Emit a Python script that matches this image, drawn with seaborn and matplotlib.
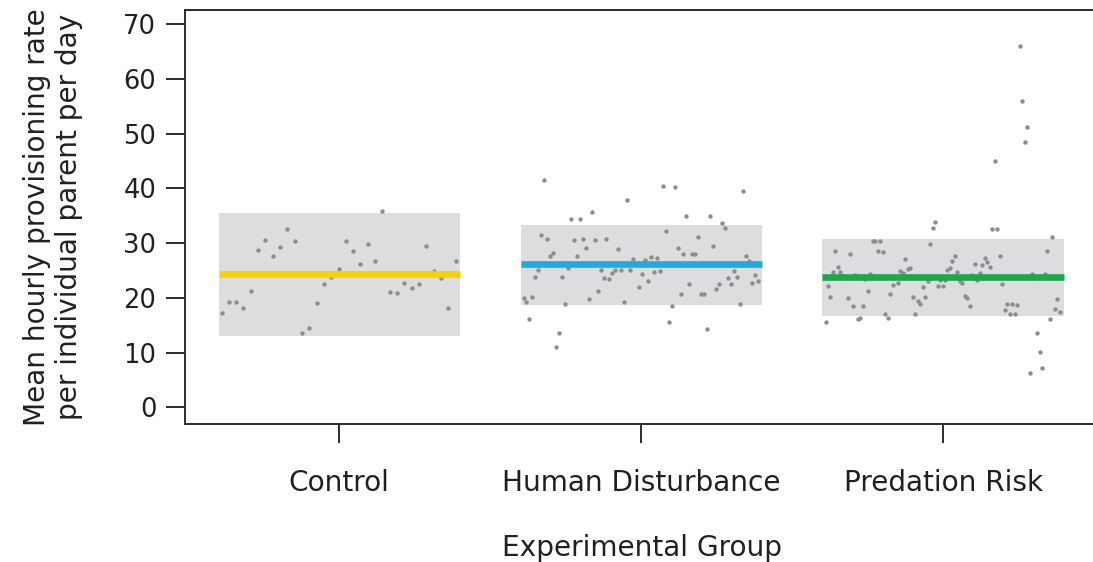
import numpy as np
import pandas as pd
import matplotlib
matplotlib.use("Agg")
import matplotlib.pyplot as plt
import seaborn as sns

# ---------------- data ----------------
groups = ["Control", "Human Disturbance", "Predation Risk"]
group_colors = ["#f6d200", "#22a9e1", "#1fa54b"]
group_means = [24.3, 26.1, 23.8]
band_lower = [13.1, 18.75, 16.7]
band_upper = [35.5, 33.3, 30.8]

control_vals = [17.2, 19.2, 19.2, 18.2, 21.3, 28.8, 30.6, 27.7, 29.3, 32.5, 30.3,
                13.5, 14.5, 19.1, 22.5, 23.8, 25.3, 30.4, 28.6, 26.1, 29.8, 26.7,
                35.9, 21.1, 20.8, 22.8, 21.8, 22.5, 29.5, 24.9, 23.6, 18.1, 26.7]

human_vals = [19.9, 19.2, 16.1, 20.1, 23.9, 25.0, 31.5, 41.6, 30.7, 27.7,
              28.2, 11.1, 13.5, 23.8, 18.8, 25.4, 34.5, 30.6, 27.7, 34.5,
              30.7, 29.1, 19.8, 35.7, 30.5, 21.3, 25.1, 23.7, 30.8, 23.4,
              24.6, 25.0, 28.9, 25.1, 19.2, 37.8, 25.1, 27.1, 26.1, 22.0,
              24.3, 26.9, 23.0, 27.5, 24.7, 27.2, 24.9, 40.4, 32.2, 15.6,
              18.5, 40.3, 29.2, 20.7, 28.1, 35.0, 22.5, 28.1, 28.1, 31.2,
              20.7, 20.7, 14.4, 35.0, 29.5, 21.7, 22.5, 33.7, 32.7, 23.6,
              22.5, 24.9, 23.8, 18.8, 39.5, 27.7, 26.8, 22.7, 24.2, 23.0]

predation_vals = [15.6, 22.2, 20.2, 24.8, 28.6, 25.6, 24.7, 24.0, 23.6, 20.0,
                  28.0, 18.6, 24.2, 16.1, 16.4, 18.5, 23.4, 21.3, 24.4, 30.3,
                  30.3, 28.6, 30.3, 28.4, 17.0, 16.4, 20.7, 22.4, 23.9, 22.8,
                  24.9, 24.6, 27.1, 25.3, 25.5, 20.1, 17.0, 19.4, 18.8, 22.0,
                  20.2, 23.0, 29.9, 32.8, 33.9, 22.2, 23.2, 22.2, 23.3, 25.1,
                  25.4, 26.8, 27.7, 24.7, 23.0, 22.8, 20.3, 19.9, 18.6, 24.1,
                  26.1, 23.2, 24.5, 26.0, 27.3, 26.5, 25.6, 32.5, 45.0, 32.6,
                  27.6, 22.6, 17.8, 18.9, 17.1, 18.8, 17.1, 18.7, 66.1, 56.0,
                  48.5, 51.2, 6.3, 24.3, 23.7, 13.6, 10.1, 7.1, 24.4, 28.5,
                  16.2, 31.1, 17.9, 19.7, 17.4]

y_ticks = [0, 10, 20, 30, 40, 50, 60, 70]
x_title = "Experimental Group"
y_title = "Mean hourly provisioning rate\nper individual parent per day"

# ---------------- build table ----------------
series = [control_vals, human_vals, predation_vals]
rows = []
for gi, vals in enumerate(series):
    offs = np.linspace(-0.39, 0.385, len(vals))
    for o, v in zip(offs, vals):
        rows.append({"group": groups[gi], "pos": gi + o, "value": v})
df = pd.DataFrame(rows)

# ---------------- style ----------------
sns.set_style("ticks")
plt.rcParams["font.family"] = ["DejaVu Sans"]
text_col = "#231f20"
plt.rcParams["text.color"] = text_col
plt.rcParams["axes.labelcolor"] = text_col
plt.rcParams["xtick.color"] = "#2b2b2b"
plt.rcParams["ytick.color"] = "#2b2b2b"
plt.rcParams["xtick.labelcolor"] = text_col
plt.rcParams["ytick.labelcolor"] = text_col

W, H = 1093, 562
fig = plt.figure(figsize=(W / 100, H / 100), dpi=100)
ax = fig.add_axes([185 / W, 138 / H, (1100 - 185) / W, 414 / H])

# bands
ax.bar(range(len(groups)), [u - l for u, l in zip(band_upper, band_lower)],
       bottom=band_lower, width=0.8, color="#dcdddf", edgecolor="none", zorder=1)

# points
sns.scatterplot(data=df, x="pos", y="value", color="#8d8d8d", s=10,
                linewidth=0, ax=ax, zorder=3, legend=False)

# mean lines
for gi, (m, c) in enumerate(zip(group_means, group_colors)):
    ax.hlines(m, gi - 0.4, gi + 0.4, color=c, linewidth=4.8, zorder=4)

ax.set_xlim(-0.511, 2.519)
ax.set_ylim(-3.05, 72.6)
ax.set_xticks(range(len(groups)))
ax.set_xticklabels(groups, fontsize=20.2)
ax.set_yticks(y_ticks)
ax.set_yticklabels([str(t) for t in y_ticks], fontsize=18.5)

for s in ax.spines.values():
    s.set_linewidth(1.4)
    s.set_color("#2b2b2b")

ax.tick_params(axis="both", direction="out", length=13.7, width=1.4)
ax.tick_params(axis="x", pad=19)
ax.tick_params(axis="y", pad=7)

ax.set_xlabel(x_title, fontsize=20.2, labelpad=26)
ax.set_ylabel(y_title, fontsize=20.2, labelpad=29, linespacing=1.2)

fig.savefig("out.png", dpi=100)
